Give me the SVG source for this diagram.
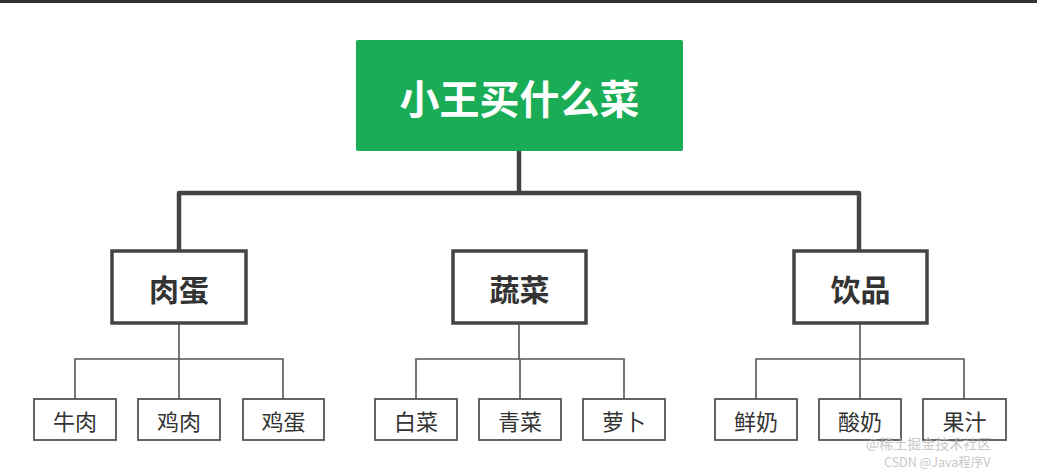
<svg xmlns="http://www.w3.org/2000/svg" width="1037" height="469" viewBox="0 0 1037 469">
<style>
.cjk{font-family:"Noto Sans CJK SC","Noto Sans",sans-serif;text-anchor:middle;dominant-baseline:central}
.root-t{font-size:40px;font-weight:bold;fill:#fff}
.mid-r{fill:#fff;stroke:#444;stroke-width:3.5}
.mid-t{font-size:30px;font-weight:bold;fill:#333}
.leaf-r{fill:#fff;stroke:#555;stroke-width:1.8}
.leaf-t{font-size:22px;fill:#333}
.thick{fill:none;stroke:#444;stroke-width:4.5;stroke-linejoin:round}
.thin{fill:none;stroke:#555;stroke-width:1.6}
.wm{font-family:"Noto Sans CJK SC","Noto Sans",sans-serif;fill:#bbb;opacity:0.8}
</style>
<rect width="1037" height="469" fill="#fff"/>
<rect x="0" y="0" width="1037" height="3" fill="#333"/>
<g id="connectors">
<path class="thick" d="M519,151 V193 M179,251 V193 H859 V251"/>
<path class="thin" d="M179,323 V359 M75,399 V359 H283 V399 M179,359 V399"/>
<path class="thin" d="M519,323 V359 M416,399 V359 H624 V399 M520,359 V399"/>
<path class="thin" d="M860,323 V359 M756,399 V359 H964 V399 M860,359 V399"/>
</g>
<g id="root">
<rect x="356" y="40" width="327" height="111" rx="2" fill="#1aad56"/>
<text class="cjk root-t" x="519.5" y="97">小王买什么菜</text>
</g>
<g id="n-roudan">
<rect class="mid-r" x="112" y="251" width="134" height="72"/>
<text class="cjk mid-t" x="179" y="288">肉蛋</text>
</g>
<g id="n-shucai">
<rect class="mid-r" x="453" y="251" width="133" height="72"/>
<text class="cjk mid-t" x="519.5" y="288">蔬菜</text>
</g>
<g id="n-yinpin">
<rect class="mid-r" x="794" y="251" width="133" height="72"/>
<text class="cjk mid-t" x="860.5" y="288">饮品</text>
</g>
<g id="n-niurou"><rect class="leaf-r" x="34" y="399" width="82" height="41"/><text class="cjk leaf-t" x="75" y="419.5">牛肉</text></g>
<g id="n-jirou"><rect class="leaf-r" x="138" y="399" width="82" height="41"/><text class="cjk leaf-t" x="179" y="419.5">鸡肉</text></g>
<g id="n-jidan"><rect class="leaf-r" x="243" y="399" width="81" height="41"/><text class="cjk leaf-t" x="283.5" y="419.5">鸡蛋</text></g>
<g id="n-baicai"><rect class="leaf-r" x="375" y="399" width="82" height="41"/><text class="cjk leaf-t" x="416" y="419.5">白菜</text></g>
<g id="n-qingcai"><rect class="leaf-r" x="479" y="399" width="82" height="41"/><text class="cjk leaf-t" x="520" y="419.5">青菜</text></g>
<g id="n-luobo"><rect class="leaf-r" x="583" y="399" width="82" height="41"/><text class="cjk leaf-t" x="624" y="419.5">萝卜</text></g>
<g id="n-xiannai"><rect class="leaf-r" x="715" y="399" width="82" height="41"/><text class="cjk leaf-t" x="756" y="419.5">鲜奶</text></g>
<g id="n-suannai"><rect class="leaf-r" x="819" y="399" width="82" height="41"/><text class="cjk leaf-t" x="860" y="419.5">酸奶</text></g>
<g id="n-guozhi"><rect class="leaf-r" x="923" y="399" width="83" height="41"/><text class="cjk leaf-t" x="964.5" y="419.5">果汁</text></g>
<text class="wm" x="866" y="449" font-size="14">@稀土掘金技术社区</text>
<text class="wm" x="884" y="467" font-size="12.5">CSDN @Java程序V</text>
</svg>
